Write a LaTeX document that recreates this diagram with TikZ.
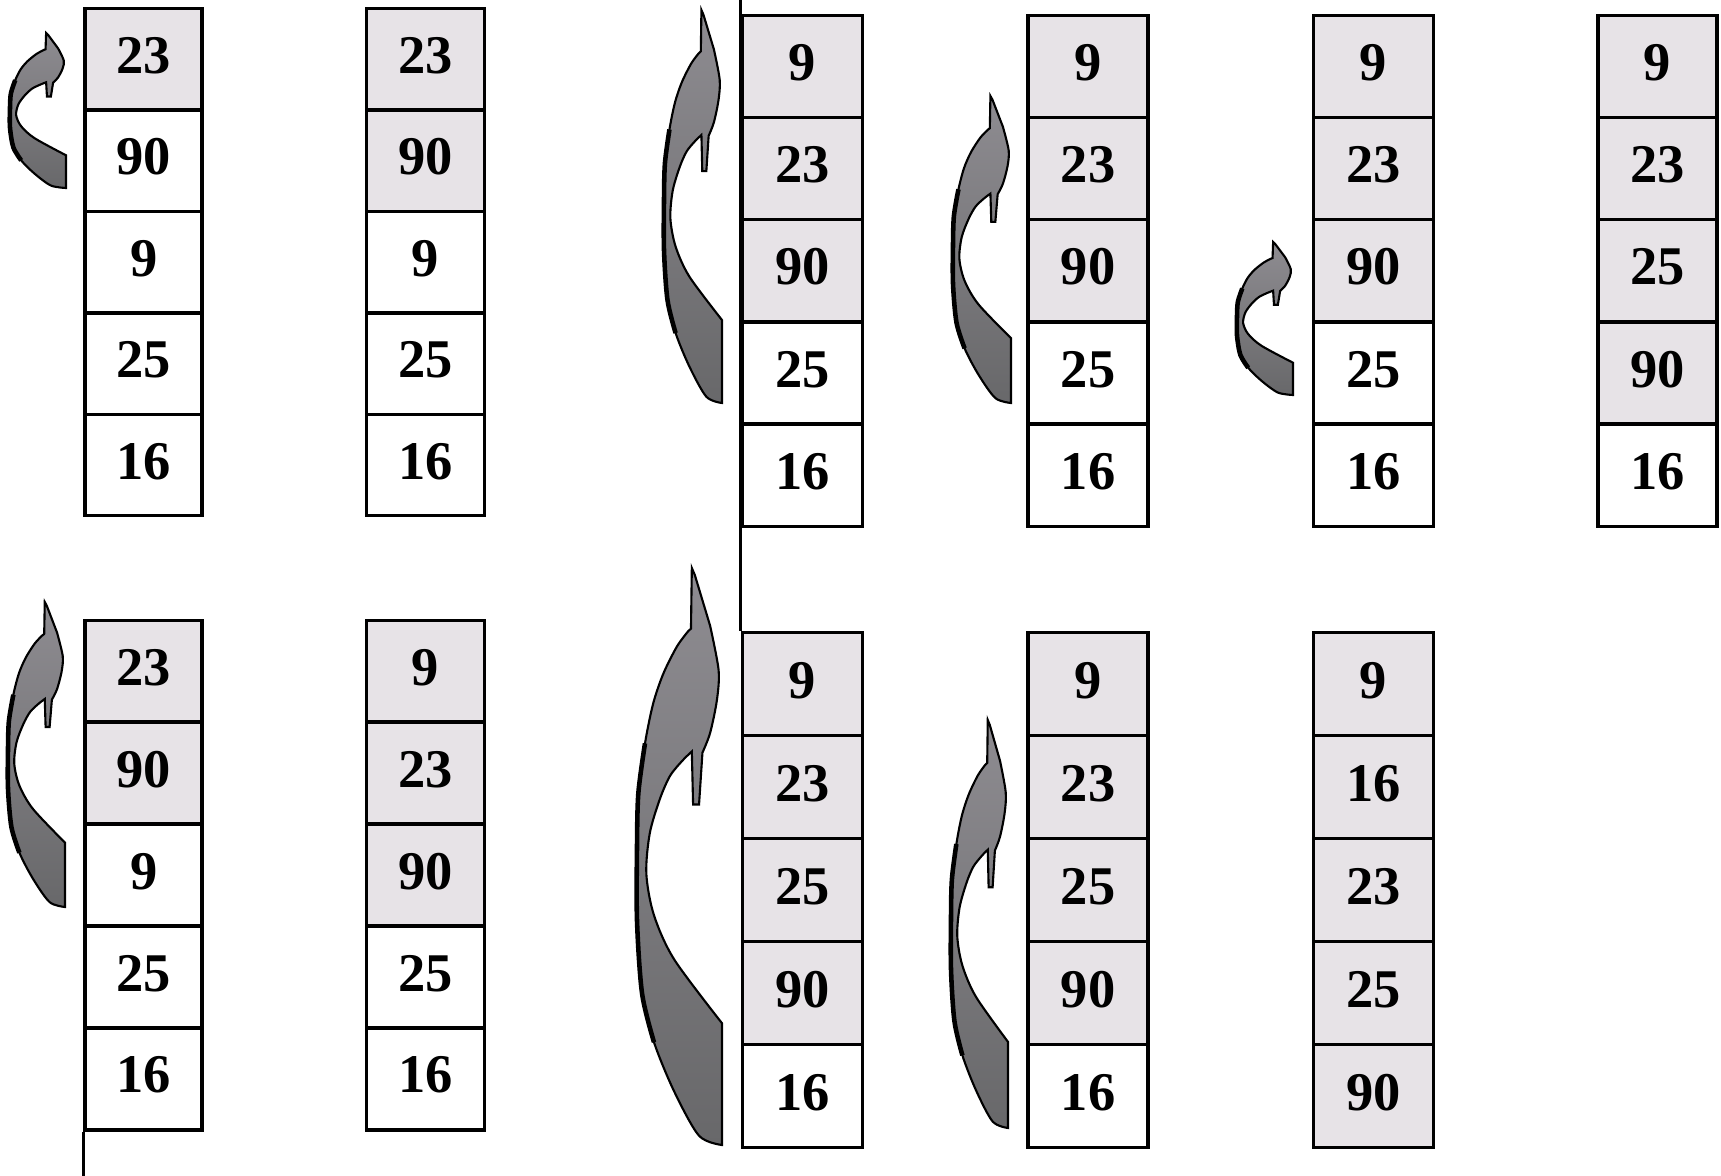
\documentclass[tikz,border=0pt]{standalone}
\usepackage{fontspec}
\setmainfont{Liberation Serif}
\usepackage{xcolor}
\usepackage{tikz}
\definecolor{cellgray}{RGB}{231,227,231}
\definecolor{arrowlight}{RGB}{142,140,145}
\definecolor{arrowdark}{RGB}{104,104,106}

\begin{document}
\begin{tikzpicture}[x=0.01cm, y=-0.01cm,
    cell/.style={draw, line width=1pt, inner sep=0pt, text depth=0.08cm,
        font=\bfseries\fontsize{15.5}{18}\selectfont},
    swaparrow/.style={top color=arrowlight, bottom color=arrowdark, draw=black,
        line width=0.6pt, line join=miter}]
\useasboundingbox (0,0) rectangle (1721,1176);

% Columns: name / x centre / top / width / cell height / values
\foreach \col/\xc/\yt/\colw/\colh/\vals in {
    a1/143.7/8.7/1.17/101.4/{23/cellgray,90/white,9/white,25/white,16/white},
    a2/425.5/8.7/1.18/101.4/{23/cellgray,90/cellgray,9/white,25/white,16/white},
    a3/802.5/15.3/1.2/102.2/{9/cellgray,23/cellgray,90/cellgray,25/white,16/white},
    a4/1088/15.3/1.2/102.2/{9/cellgray,23/cellgray,90/cellgray,25/white,16/white},
    a5/1373.3/15.3/1.2/102.2/{9/cellgray,23/cellgray,90/cellgray,25/white,16/white},
    a6/1657.5/15.3/1.19/102.2/{9/cellgray,23/cellgray,25/cellgray,90/cellgray,16/white},
    b1/143.7/620.3/1.17/101.9/{23/cellgray,90/cellgray,9/white,25/white,16/white},
    b2/425.5/620.3/1.18/101.9/{9/cellgray,23/cellgray,90/cellgray,25/white,16/white},
    b3/802.5/632.5/1.2/103/{9/cellgray,23/cellgray,25/cellgray,90/cellgray,16/white},
    b4/1088/632.5/1.2/103/{9/cellgray,23/cellgray,25/cellgray,90/cellgray,16/white},
    b5/1373.3/632.5/1.2/103/{9/cellgray,16/cellgray,23/cellgray,25/cellgray,90/cellgray}} {
    \pgfmathsetmacro{\hcm}{\colh/100}
    \foreach \val/\fc [count=\i] in \vals {
        \node[cell, fill=\fc, minimum width=\colw cm, minimum height=\hcm cm]
            (\col-\i) at ({\xc}, {\yt+(\i-0.5)*\colh}) {\val};
    }
}

% Dividing lines
\coordinate (pageTop) at (0,0);
\coordinate (pageBottom) at (0,1176);
\draw[line width=1pt] (a3-1.north west |- pageTop) -- (b3-1.north west);
\draw[line width=1pt] (b1-5.south west) -- (b1-5.south west |- pageBottom);

% Curved arrows: left / right / tip / tail bottom
\foreach \xa/\xb/\ya/\yb in {10/66/33/188, 664/722/10/403, 953/1011/96/403,
    1237/1293/242/395, 8/65/602/907, 637/722/568/1145, 951/1008/720/1128} {
    \pgfmathsetmacro{\aw}{\xb-\xa}
    \pgfmathsetmacro{\ah}{\yb-\ya}
    \begin{scope}[shift={(\xa,\ya)}, xscale=\aw, yscale=\ah]
        \path[swaparrow] plot[smooth, tension=0.5] coordinates {(1,1) (0.73,0.984)
            (0.44,0.908) (0.2,0.822) (0.06,0.738) (0,0.611) (0,0.483) (0.016,0.39)
            (0.094,0.304) (0.19,0.235) (0.31,0.183) (0.47,0.136) (0.60,0.11)}
            -- (0.635,0.105) -- (0.645,0) -- (0.68,0.012) -- (0.86,0.10)
            -- plot[smooth, tension=0.5] coordinates {(0.86,0.10) (0.96,0.177)
            (0.94,0.229) (0.86,0.286) (0.77,0.32)} -- (0.73,0.41) -- (0.66,0.41)
            -- (0.645,0.318) -- plot[smooth, tension=0.5] coordinates {(0.645,0.318)
            (0.54,0.333) (0.39,0.36) (0.27,0.40) (0.15,0.46) (0.11,0.53)
            (0.2,0.602) (0.44,0.679) (1,0.789)} -- cycle;
        % darker outer rim
        \draw[line width=1.3pt] plot[smooth, tension=0.5] coordinates {(0.2,0.822)
            (0.06,0.738) (0,0.611) (0,0.483) (0.016,0.39) (0.094,0.304)};
    \end{scope}
}
\end{tikzpicture}
\end{document}
